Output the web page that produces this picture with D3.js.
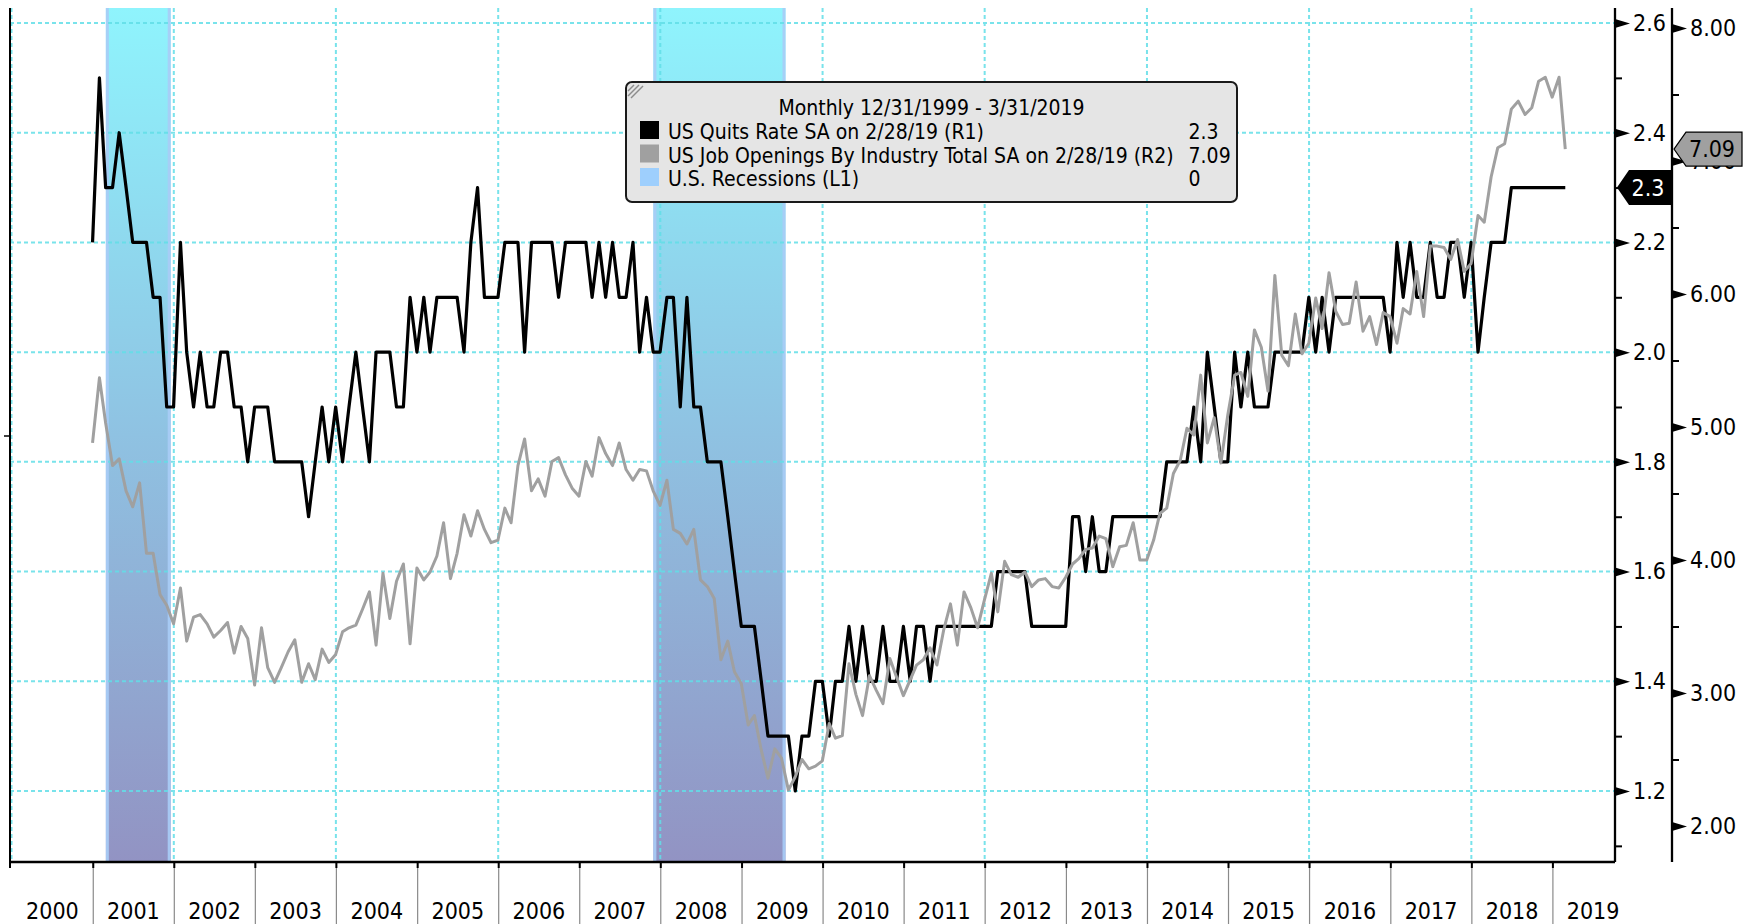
<!DOCTYPE html>
<html>
<head>
<meta charset="utf-8">
<script src="https://cdn.jsdelivr.net/npm/d3@7"></script>
<style>
    body { margin: 0; background: #fff; }
    svg { display: block; font-family: "DejaVu Sans Condensed", "DejaVu Sans", sans-serif; font-stretch: condensed; }
</style>
</head>
<body>
<svg id="chart" width="1753" height="924"></svg>
<script>
// First observation: Dec 2000 (JOLTS start), plotted at month end
const firstMonth = {year: 2000, month: 11};

// US Quits Rate SA (R1), Dec 2000 .. Feb 2019
const quitsRate = [
    2.2, 2.5, 2.3, 2.3, 2.4, 2.3, 2.2, 2.2, 2.2, 2.1, 2.1, 1.9,
    1.9, 2.2, 2.0, 1.9, 2.0, 1.9, 1.9, 2.0, 2.0, 1.9, 1.9, 1.8,
    1.9, 1.9, 1.9, 1.8, 1.8, 1.8, 1.8, 1.8, 1.7, 1.8, 1.9, 1.8,
    1.9, 1.8, 1.9, 2.0, 1.9, 1.8, 2.0, 2.0, 2.0, 1.9, 1.9, 2.1,
    2.0, 2.1, 2.0, 2.1, 2.1, 2.1, 2.1, 2.0, 2.2, 2.3, 2.1, 2.1,
    2.1, 2.2, 2.2, 2.2, 2.0, 2.2, 2.2, 2.2, 2.2, 2.1, 2.2, 2.2,
    2.2, 2.2, 2.1, 2.2, 2.1, 2.2, 2.1, 2.1, 2.2, 2.0, 2.1, 2.0,
    2.0, 2.1, 2.1, 1.9, 2.1, 1.9, 1.9, 1.8, 1.8, 1.8, 1.7, 1.6,
    1.5, 1.5, 1.5, 1.4, 1.3, 1.3, 1.3, 1.3, 1.2, 1.3, 1.3, 1.4,
    1.4, 1.3, 1.4, 1.4, 1.5, 1.4, 1.5, 1.4, 1.4, 1.5, 1.4, 1.4,
    1.5, 1.4, 1.5, 1.5, 1.4, 1.5, 1.5, 1.5, 1.5, 1.5, 1.5, 1.5,
    1.5, 1.5, 1.6, 1.6, 1.6, 1.6, 1.6, 1.5, 1.5, 1.5, 1.5, 1.5,
    1.5, 1.7, 1.7, 1.6, 1.7, 1.6, 1.6, 1.7, 1.7, 1.7, 1.7, 1.7,
    1.7, 1.7, 1.7, 1.8, 1.8, 1.8, 1.8, 1.9, 1.8, 2.0, 1.9, 1.8,
    1.8, 2.0, 1.9, 2.0, 1.9, 1.9, 1.9, 2.0, 2.0, 2.0, 2.0, 2.0,
    2.1, 2.0, 2.1, 2.0, 2.1, 2.1, 2.1, 2.1, 2.1, 2.1, 2.1, 2.1,
    2.0, 2.2, 2.1, 2.2, 2.1, 2.1, 2.2, 2.1, 2.1, 2.2, 2.2, 2.1,
    2.2, 2.0, 2.1, 2.2, 2.2, 2.2, 2.3, 2.3, 2.3, 2.3, 2.3, 2.3,
    2.3, 2.3, 2.3
];

// US Job Openings By Industry Total SA, millions (R2), Dec 2000 .. Feb 2019
const jobOpenings = [
    4.88, 5.37, 5.03, 4.71, 4.76, 4.52, 4.40, 4.58, 4.05, 4.05, 3.74, 3.66,
    3.52, 3.79, 3.39, 3.57, 3.59, 3.52, 3.42, 3.47, 3.53, 3.30, 3.50, 3.41,
    3.06, 3.49, 3.19, 3.08, 3.19, 3.31, 3.40, 3.08, 3.22, 3.10, 3.33, 3.23,
    3.29, 3.46, 3.49, 3.51, 3.63, 3.76, 3.36, 3.90, 3.56, 3.84, 3.97, 3.37,
    3.94, 3.85, 3.91, 4.03, 4.28, 3.86, 4.05, 4.34, 4.18, 4.37, 4.23, 4.13,
    4.15, 4.39, 4.28, 4.71, 4.91, 4.52, 4.61, 4.48, 4.74, 4.77, 4.64, 4.54,
    4.48, 4.74, 4.63, 4.92, 4.80, 4.71, 4.88, 4.68, 4.60, 4.68, 4.67, 4.52,
    4.41, 4.60, 4.23, 4.20, 4.12, 4.23, 3.85, 3.80, 3.71, 3.25, 3.39, 3.16,
    3.07, 2.76, 2.83, 2.57, 2.36, 2.58, 2.51, 2.27, 2.37, 2.50, 2.43, 2.45,
    2.49, 2.77, 2.66, 2.68, 3.22, 2.99, 2.83, 3.13, 3.02, 2.92, 3.26, 3.12,
    2.98, 3.10, 3.21, 3.25, 3.34, 3.21, 3.47, 3.67, 3.36, 3.76, 3.64, 3.49,
    3.70, 3.90, 3.61, 3.99, 3.89, 3.87, 3.91, 3.80, 3.85, 3.86, 3.80, 3.79,
    3.87, 3.97, 4.01, 4.08, 4.09, 4.18, 4.16, 3.95, 4.10, 4.11, 4.28, 4.00,
    4.00, 4.15, 4.35, 4.39, 4.65, 4.75, 4.99, 4.94, 5.39, 4.88, 5.07, 4.73,
    5.09, 5.39, 5.41, 5.23, 5.73, 5.60, 5.27, 6.14, 5.54, 5.46, 5.85, 5.55,
    5.63, 5.97, 5.74, 6.16, 5.87, 5.77, 5.78, 6.09, 5.72, 5.83, 5.62, 5.86,
    5.83, 5.63, 5.89, 5.85, 6.17, 5.83, 6.36, 6.36, 6.35, 6.26, 6.41, 6.17,
    6.23, 6.59, 6.54, 6.88, 7.10, 7.13, 7.39, 7.45, 7.35, 7.40, 7.60, 7.63,
    7.48, 7.63, 7.09
];

// NBER recessions (month index 0 = January)
const recessions = [
    {start: [2001, 2], end: [2001, 10]},
    {start: [2007, 11], end: [2009, 5]}
];

const r1Ticks = [1.2, 1.4, 1.6, 1.8, 2.0, 2.2, 2.4, 2.6];
const r1Minor = [1.1, 1.3, 1.5, 1.7, 1.9, 2.1, 2.3, 2.5];
const r2Ticks = [2, 3, 4, 5, 6, 7, 8];
const r2Minor = [2.5, 3.5, 4.5, 5.5, 6.5, 7.5];
const years = d3.range(2000, 2020);
const gridYears = [2000, 2002, 2004, 2006, 2008, 2010, 2012, 2014, 2016, 2018];

const legendTitle = "Monthly 12/31/1999 - 3/31/2019";
const legendRows = [
    {label: "US Quits Rate SA on 2/28/19 (R1)", value: "2.3", color: "#000000"},
    {label: "US Job Openings By Industry Total SA on 2/28/19 (R2)", value: "7.09", color: "#a0a0a0"},
    {label: "U.S. Recessions (L1)", value: "0", color: "#9ecffd"}
];

const plot = {left: 10, right: 1615, right2: 1672, top: 8, bottom: 862};
const svg = d3.select("#chart");

const x = d3.scaleUtc()
    .domain([new Date(Date.UTC(2000, 0, 1)), new Date(Date.UTC(2019, 0, 1))])
    .range([11.5, 1552.4]);
const yR1 = d3.scaleLinear().domain([1.2, 2.6]).range([791, 23]);
const yR2 = d3.scaleLinear().domain([2, 8]).range([826, 28]);

const monthEnd = i => new Date(Date.UTC(firstMonth.year, firstMonth.month + i + 1, 0));

// Recession shading
const defs = svg.append("defs");
const grad = defs.append("linearGradient")
    .attr("id", "recGrad")
    .attr("gradientUnits", "userSpaceOnUse")
    .attr("x1", 0).attr("y1", plot.top).attr("x2", 0).attr("y2", plot.bottom);
grad.append("stop").attr("offset", "0%").attr("stop-color", "#8ff4fd");
grad.append("stop").attr("offset", "50%").attr("stop-color", "#8fc2e2");
grad.append("stop").attr("offset", "100%").attr("stop-color", "#9293c3");

const bands = svg.append("g");
recessions.forEach(r => {
    const x0 = x(new Date(Date.UTC(r.start[0], r.start[1], 1)));
    const x1 = x(d3.utcDay.offset(new Date(Date.UTC(r.end[0], r.end[1] + 1, 0)), 18));
    bands.append("rect")
        .attr("x", x0).attr("y", plot.top)
        .attr("width", x1 - x0).attr("height", plot.bottom - plot.top)
        .attr("fill", "url(#recGrad)");
    [x0 + 1.5, x1 - 1.5].forEach(xe => {
        bands.append("line")
            .attr("x1", xe).attr("x2", xe)
            .attr("y1", plot.top).attr("y2", plot.bottom)
            .attr("stroke", "#a9cdf7").attr("stroke-width", 3).attr("opacity", 0.9);
    });
});

// Grid
const grid = svg.append("g")
    .attr("stroke", "#62dfe8").attr("stroke-width", 2)
    .attr("stroke-dasharray", "4,3").attr("opacity", 0.85);
grid.selectAll("line.h")
    .data(r1Ticks)
    .join("line")
    .attr("class", "h")
    .attr("x1", plot.left).attr("x2", plot.right)
    .attr("y1", d => yR1(d)).attr("y2", d => yR1(d));
grid.selectAll("line.v")
    .data(gridYears)
    .join("line")
    .attr("class", "v")
    .attr("x1", d => x(new Date(Date.UTC(d, 0, 1))))
    .attr("x2", d => x(new Date(Date.UTC(d, 0, 1))))
    .attr("y1", plot.top).attr("y2", plot.bottom);

// Series
const quitsLine = d3.line().x((d, i) => x(monthEnd(i))).y(d => yR1(d));
const openingsLine = d3.line().x((d, i) => x(monthEnd(i))).y(d => yR2(d));

svg.append("path")
    .datum(quitsRate)
    .attr("d", quitsLine)
    .attr("fill", "none")
    .attr("stroke", "#000")
    .attr("stroke-width", 3.2)
    .attr("stroke-linejoin", "round");

svg.append("path")
    .datum(jobOpenings)
    .attr("d", openingsLine)
    .attr("fill", "none")
    .attr("stroke", "#a0a0a0")
    .attr("stroke-width", 3)
    .attr("stroke-linejoin", "round");

// X axis: year separators and labels
const yearStarts = years.slice(1).map(y => new Date(Date.UTC(y, 0, 1)));
const sepAxis = svg.append("g")
    .attr("transform", `translate(0,${plot.bottom})`)
    .call(d3.axisBottom(x).tickValues(yearStarts).tickSize(62).tickFormat(""));
sepAxis.select(".domain").remove();
sepAxis.selectAll(".tick line").attr("stroke", "#8a8a8a").attr("stroke-width", 1.2);
sepAxis.selectAll(".tick").append("line")
    .attr("y1", 0).attr("y2", 6)
    .attr("stroke", "#000").attr("stroke-width", 2);

const labelAxis = svg.append("g")
    .attr("transform", `translate(0,${plot.bottom})`)
    .attr("font-family", null)
    .call(d3.axisBottom(x)
        .tickValues(years.map(y => new Date(Date.UTC(y, 6, 1))))
        .tickSize(0)
        .tickFormat(d3.utcFormat("%Y")));
labelAxis.attr("font-family", null).attr("font-size", 23);
labelAxis.select(".domain").remove();
labelAxis.selectAll(".tick text").attr("y", 57).attr("dy", null).attr("fill", "#000");

// Frame lines
svg.append("line")
    .attr("x1", plot.left).attr("x2", plot.right)
    .attr("y1", plot.bottom).attr("y2", plot.bottom)
    .attr("stroke", "#000").attr("stroke-width", 2.6);
svg.append("line")
    .attr("x1", plot.left).attr("x2", plot.left)
    .attr("y1", plot.top).attr("y2", plot.bottom + 6)
    .attr("stroke", "#000").attr("stroke-width", 2);
svg.append("line")
    .attr("x1", plot.left - 6).attr("x2", plot.left)
    .attr("y1", 436).attr("y2", 436)
    .attr("stroke", "#000").attr("stroke-width", 1.5);

// Right axes
function rightAxis(xPos, scale, majors, minors, fmt) {
    svg.append("line")
        .attr("x1", xPos).attr("x2", xPos)
        .attr("y1", plot.top).attr("y2", plot.bottom)
        .attr("stroke", "#000").attr("stroke-width", 2.3);

    const minorG = svg.append("g")
        .attr("transform", `translate(${xPos},0)`)
        .call(d3.axisRight(scale).tickValues(minors).tickSize(7).tickFormat(""));
    minorG.select(".domain").remove();
    minorG.selectAll(".tick line").attr("stroke", "#000").attr("stroke-width", 2);

    const majorG = svg.append("g")
        .attr("transform", `translate(${xPos},0)`)
        .call(d3.axisRight(scale).tickValues(majors).tickSize(0).tickPadding(18).tickFormat(fmt));
    majorG.attr("font-family", null).attr("font-size", 23);
    majorG.select(".domain").remove();
    majorG.selectAll(".tick text").attr("fill", "#000");
    majorG.selectAll(".tick").append("path")
        .attr("d", "M0,-4.5L15,0L0,4.5Z")
        .attr("fill", "#000");
}
rightAxis(plot.right, yR1, r1Ticks, r1Minor, d3.format(".1f"));
rightAxis(plot.right2, yR2, r2Ticks, r2Minor, d3.format(".2f"));

// Last-value tags
const lastQuits = quitsRate[quitsRate.length - 1];
const lastOpen = jobOpenings[jobOpenings.length - 1];

const qy = yR1(lastQuits);
svg.append("path")
    .attr("d", `M${plot.right + 2},${qy}L${plot.right + 14},${qy - 17.5}L${plot.right2},${qy - 17.5}L${plot.right2},${qy + 17.5}L${plot.right + 14},${qy + 17.5}Z`)
    .attr("fill", "#000");
svg.append("text")
    .attr("x", 1648).attr("y", qy).attr("dy", "0.36em")
    .attr("text-anchor", "middle").attr("font-size", 23).attr("fill", "#fff")
    .text(d3.format(".1f")(lastQuits));

const oy = yR2(lastOpen);
svg.append("path")
    .attr("d", `M${plot.right2 + 2},${oy}L${plot.right2 + 14},${oy - 17}L1742,${oy - 17}L1742,${oy + 17}L${plot.right2 + 14},${oy + 17}Z`)
    .attr("fill", "#a0a0a0").attr("stroke", "#000").attr("stroke-width", 1.2);
svg.append("text")
    .attr("x", 1712).attr("y", oy).attr("dy", "0.36em")
    .attr("text-anchor", "middle").attr("font-size", 23).attr("fill", "#000")
    .text(d3.format(".2f")(lastOpen));

// Legend
const legend = svg.append("g");
legend.append("rect")
    .attr("x", 626).attr("y", 82).attr("width", 611).attr("height", 120)
    .attr("rx", 6)
    .attr("fill", "#e5e5e5").attr("stroke", "#1a1a1a").attr("stroke-width", 2);
[[628, 91, 634, 85], [628, 96, 639, 85], [631, 98, 643, 86]].forEach(l => {
    legend.append("line")
        .attr("x1", l[0]).attr("y1", l[1]).attr("x2", l[2]).attr("y2", l[3])
        .attr("stroke", "#8c8c8c").attr("stroke-width", 1.5);
});
legend.append("text")
    .attr("x", 931.5).attr("y", 115)
    .attr("text-anchor", "middle").attr("font-size", 21)
    .text(legendTitle);
legendRows.forEach((row, i) => {
    const base = 139 + i * 23.5;
    legend.append("rect")
        .attr("x", 640).attr("y", base - 18).attr("width", 19).attr("height", 18)
        .attr("fill", row.color);
    legend.append("text")
        .attr("x", 668).attr("y", base).attr("font-size", 21)
        .text(row.label);
    legend.append("text")
        .attr("x", 1188.6).attr("y", base).attr("font-size", 21)
        .text(row.value);
});
</script>
</body>
</html>
